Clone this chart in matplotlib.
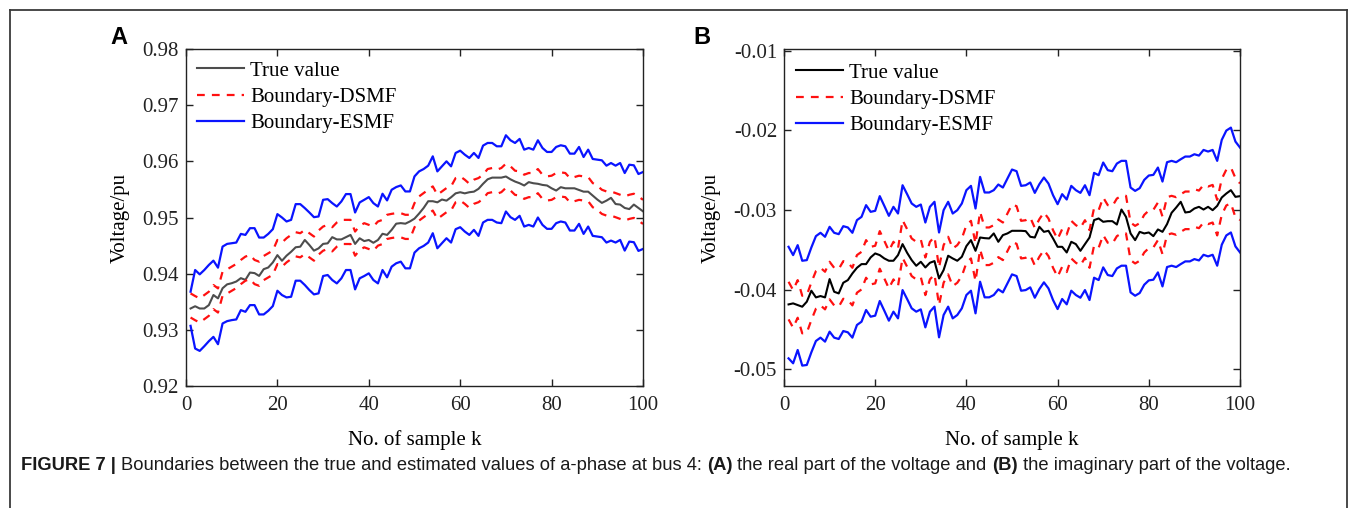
import numpy as np
import matplotlib
matplotlib.use("Agg")
import matplotlib.pyplot as plt
from matplotlib.lines import Line2D
from matplotlib import font_manager

# ---------------- data ----------------
samples = list(range(1, 101))

a_true = [0.9338, 0.9342, 0.9338, 0.9338, 0.9344, 0.9362, 0.9356, 0.9374, 0.9381, 0.9383,
          0.9386, 0.9392, 0.9389, 0.9402, 0.9401, 0.9396, 0.9408, 0.9411, 0.9420, 0.9433,
          0.9423, 0.9432, 0.9439, 0.9447, 0.9448, 0.9460, 0.9451, 0.9441, 0.9445, 0.9453,
          0.9454, 0.9465, 0.9461, 0.9461, 0.9465, 0.9469, 0.9453, 0.9463, 0.9458, 0.9460,
          0.9455, 0.9460, 0.9471, 0.9469, 0.9478, 0.9489, 0.9490, 0.9489, 0.9493, 0.9498,
          0.9507, 0.9517, 0.9529, 0.9529, 0.9527, 0.9532, 0.9530, 0.9536, 0.9543, 0.9545,
          0.9543, 0.9545, 0.9546, 0.9551, 0.9560, 0.9568, 0.9571, 0.9571, 0.9571, 0.9573,
          0.9568, 0.9564, 0.9561, 0.9557, 0.9563, 0.9561, 0.9560, 0.9558, 0.9557, 0.9552,
          0.9548, 0.9554, 0.9552, 0.9552, 0.9552, 0.9549, 0.9546, 0.9546, 0.9539, 0.9532,
          0.9526, 0.9530, 0.9535, 0.9524, 0.9523, 0.9517, 0.9515, 0.9523, 0.9517, 0.9511]

a_dsmf_up = [0.93649, 0.93601, 0.93560, 0.93619, 0.93679, 0.93798, 0.93738, 0.94036, 0.94077, 0.94125,
             0.94173, 0.94244, 0.94304, 0.94333, 0.94244, 0.94214, 0.94315, 0.94363, 0.94411, 0.94601,
             0.94554, 0.94631, 0.94690, 0.94738, 0.94720, 0.94780, 0.94720, 0.94661, 0.94768, 0.94839,
             0.94869, 0.94827, 0.94911, 0.94958, 0.94958, 0.94958, 0.94750, 0.94851, 0.94899, 0.94869,
             0.94839, 0.94929, 0.94958, 0.95048, 0.95065, 0.95077, 0.95077, 0.95048, 0.95048, 0.95256,
             0.95375, 0.95435, 0.95494, 0.95554, 0.95405, 0.95464, 0.95524, 0.95554, 0.95702, 0.95732,
             0.95673, 0.95601, 0.95673, 0.95702, 0.95762, 0.95863, 0.95881, 0.95851, 0.95881, 0.95958,
             0.95911, 0.95833, 0.95821, 0.95762, 0.95792, 0.95792, 0.95863, 0.95762, 0.95732, 0.95744,
             0.95792, 0.95804, 0.95792, 0.95702, 0.95720, 0.95744, 0.95732, 0.95720, 0.95613, 0.95565,
             0.95494, 0.95464, 0.95464, 0.95435, 0.95405, 0.95375, 0.95405, 0.95423, 0.95375, 0.95315]

a_dsmf_low = [0.93219, 0.93171, 0.93130, 0.93189, 0.93249, 0.93368, 0.93308, 0.93606, 0.93647, 0.93695,
              0.93743, 0.93814, 0.93874, 0.93903, 0.93814, 0.93784, 0.93885, 0.93933, 0.93981, 0.94171,
              0.94124, 0.94201, 0.94260, 0.94308, 0.94290, 0.94350, 0.94290, 0.94231, 0.94338, 0.94409,
              0.94439, 0.94397, 0.94481, 0.94528, 0.94528, 0.94528, 0.94320, 0.94421, 0.94469, 0.94439,
              0.94409, 0.94499, 0.94528, 0.94618, 0.94635, 0.94647, 0.94647, 0.94618, 0.94618, 0.94826,
              0.94945, 0.95005, 0.95064, 0.95124, 0.94975, 0.95034, 0.95094, 0.95124, 0.95272, 0.95302,
              0.95243, 0.95171, 0.95243, 0.95272, 0.95332, 0.95433, 0.95451, 0.95421, 0.95451, 0.95528,
              0.95481, 0.95403, 0.95391, 0.95332, 0.95362, 0.95362, 0.95433, 0.95332, 0.95302, 0.95314,
              0.95362, 0.95374, 0.95362, 0.95272, 0.95290, 0.95314, 0.95302, 0.95290, 0.95183, 0.95135,
              0.95064, 0.95034, 0.95034, 0.95005, 0.94975, 0.94945, 0.94975, 0.94993, 0.94945, 0.94885]

a_esmf_up = [0.93679, 0.94065, 0.93988, 0.94065, 0.94155, 0.94232, 0.94107, 0.94482, 0.94530, 0.94542,
             0.94554, 0.94708, 0.94690, 0.94810, 0.94810, 0.94643, 0.94643, 0.94708, 0.94792, 0.95060,
             0.95000, 0.94929, 0.94958, 0.95238, 0.95238, 0.95167, 0.95089, 0.95006, 0.95018, 0.95315,
             0.95327, 0.95256, 0.95196, 0.95286, 0.95417, 0.95417, 0.95089, 0.95268, 0.95315, 0.95363,
             0.95256, 0.95196, 0.95423, 0.95304, 0.95494, 0.95542, 0.95571, 0.95464, 0.95464, 0.95732,
             0.95821, 0.95863, 0.95923, 0.96089, 0.95821, 0.95911, 0.96000, 0.95911, 0.96149, 0.96190,
             0.96119, 0.96060, 0.96149, 0.96060, 0.96280, 0.96327, 0.96327, 0.96268, 0.96268, 0.96464,
             0.96375, 0.96327, 0.96399, 0.96208, 0.96238, 0.96208, 0.96375, 0.96238, 0.96167, 0.96167,
             0.96256, 0.96286, 0.96268, 0.96137, 0.96137, 0.96256, 0.96077, 0.96208, 0.96042, 0.96030,
             0.96018, 0.95923, 0.95970, 0.95923, 0.95970, 0.95792, 0.95940, 0.95929, 0.95774, 0.95810]

a_esmf_low = [0.93071, 0.92667, 0.92625, 0.92708, 0.92798, 0.92875, 0.92744, 0.93113, 0.93155, 0.93173,
              0.93185, 0.93351, 0.93321, 0.93440, 0.93440, 0.93274, 0.93274, 0.93339, 0.93423, 0.93696,
              0.93619, 0.93577, 0.93589, 0.93875, 0.93875, 0.93798, 0.93708, 0.93631, 0.93649, 0.93958,
              0.93976, 0.93887, 0.93827, 0.93917, 0.94065, 0.94065, 0.93720, 0.93917, 0.93958, 0.94006,
              0.93887, 0.93827, 0.94065, 0.93935, 0.94125, 0.94185, 0.94214, 0.94095, 0.94095, 0.94375,
              0.94452, 0.94494, 0.94554, 0.94720, 0.94452, 0.94542, 0.94631, 0.94554, 0.94792, 0.94827,
              0.94750, 0.94690, 0.94780, 0.94673, 0.94911, 0.94958, 0.94958, 0.94911, 0.94899, 0.95107,
              0.95006, 0.94958, 0.95030, 0.94839, 0.94869, 0.94839, 0.95000, 0.94869, 0.94798, 0.94798,
              0.94899, 0.94929, 0.94911, 0.94768, 0.94768, 0.94887, 0.94708, 0.94839, 0.94673, 0.94661,
              0.94649, 0.94554, 0.94589, 0.94554, 0.94601, 0.94411, 0.94571, 0.94560, 0.94405, 0.94440]

b_true = [-0.04186, -0.04173, -0.04194, -0.04215, -0.04152, -0.04014, -0.04098, -0.04081, -0.04098, -0.03868,
          -0.04027, -0.04048, -0.03914, -0.03881, -0.03797, -0.03726, -0.03680, -0.03680, -0.03596, -0.03546,
          -0.03567, -0.03609, -0.03638, -0.03638, -0.03567, -0.03429, -0.03538, -0.03630, -0.03701, -0.03651,
          -0.03722, -0.03663, -0.03642, -0.03860, -0.03755, -0.03575, -0.03609, -0.03638, -0.03588, -0.03454,
          -0.03379, -0.03513, -0.03346, -0.03354, -0.03358, -0.03295, -0.03400, -0.03316, -0.03295, -0.03262,
          -0.03262, -0.03262, -0.03266, -0.03337, -0.03346, -0.03212, -0.03275, -0.03262, -0.03358, -0.03463,
          -0.03463, -0.03534, -0.03400, -0.03429, -0.03513, -0.03429, -0.03346, -0.03128, -0.03107, -0.03149,
          -0.03141, -0.03141, -0.03183, -0.02995, -0.03087, -0.03295, -0.03379, -0.03275, -0.03295, -0.03283,
          -0.03329, -0.03245, -0.03275, -0.03178, -0.03036, -0.02970, -0.02898, -0.03032, -0.03024, -0.02982,
          -0.02961, -0.02995, -0.02961, -0.03003, -0.02949, -0.02844, -0.02794, -0.02752, -0.02836, -0.02827]

b_dsmf_up = [-0.03902, -0.04006, -0.03881, -0.04077, -0.04069, -0.03910, -0.03768, -0.03726, -0.03776, -0.03651,
             -0.03726, -0.03743, -0.03643, -0.03659, -0.03726, -0.03567, -0.03526, -0.03379, -0.03463, -0.03450,
             -0.03266, -0.03388, -0.03513, -0.03400, -0.03484, -0.03129, -0.03241, -0.03358, -0.03400, -0.03371,
             -0.03597, -0.03400, -0.03337, -0.03722, -0.03442, -0.03337, -0.03484, -0.03442, -0.03358, -0.03191,
             -0.03137, -0.03421, -0.03024, -0.03220, -0.03220, -0.03191, -0.03120, -0.03158, -0.03045, -0.02932,
             -0.02953, -0.03137, -0.03129, -0.03095, -0.03225, -0.03116, -0.03032, -0.03108, -0.03254, -0.03367,
             -0.03241, -0.03308, -0.03137, -0.03191, -0.03225, -0.03129, -0.03254, -0.02974, -0.03003, -0.02844,
             -0.02940, -0.02953, -0.02857, -0.02823, -0.02823, -0.03158, -0.03200, -0.03166, -0.03062, -0.03007,
             -0.02999, -0.02907, -0.03083, -0.02840, -0.02823, -0.02840, -0.02803, -0.02769, -0.02769, -0.02740,
             -0.02757, -0.02686, -0.02706, -0.02686, -0.02874, -0.02611, -0.02494, -0.02467, -0.02600, -0.02667]

b_dsmf_low = [-0.04374, -0.04478, -0.04353, -0.04549, -0.04541, -0.04382, -0.04240, -0.04198, -0.04248, -0.04123,
              -0.04198, -0.04215, -0.04115, -0.04131, -0.04198, -0.04039, -0.03998, -0.03851, -0.03935, -0.03922,
              -0.03738, -0.03860, -0.03985, -0.03872, -0.03956, -0.03601, -0.03713, -0.03830, -0.03872, -0.03843,
              -0.04069, -0.03872, -0.03809, -0.04194, -0.03914, -0.03809, -0.03956, -0.03914, -0.03830, -0.03663,
              -0.03609, -0.03893, -0.03496, -0.03692, -0.03692, -0.03663, -0.03592, -0.03630, -0.03517, -0.03404,
              -0.03425, -0.03609, -0.03601, -0.03567, -0.03697, -0.03588, -0.03504, -0.03580, -0.03726, -0.03839,
              -0.03713, -0.03780, -0.03609, -0.03663, -0.03697, -0.03601, -0.03726, -0.03446, -0.03475, -0.03316,
              -0.03412, -0.03425, -0.03329, -0.03295, -0.03295, -0.03630, -0.03672, -0.03638, -0.03534, -0.03479,
              -0.03471, -0.03379, -0.03555, -0.03312, -0.03295, -0.03312, -0.03275, -0.03241, -0.03241, -0.03212,
              -0.03229, -0.03158, -0.03178, -0.03158, -0.03320, -0.03061, -0.02944, -0.02917, -0.03092, -0.03127]

b_esmf_up = [-0.03463, -0.03567, -0.03442, -0.03638, -0.03630, -0.03471, -0.03329, -0.03287, -0.03337, -0.03212,
             -0.03287, -0.03304, -0.03204, -0.03220, -0.03287, -0.03128, -0.03087, -0.02940, -0.03024, -0.03011,
             -0.02827, -0.02949, -0.03074, -0.02961, -0.03045, -0.02690, -0.02802, -0.02919, -0.02961, -0.02932,
             -0.03158, -0.02961, -0.02898, -0.03283, -0.03003, -0.02898, -0.03045, -0.03003, -0.02919, -0.02752,
             -0.02698, -0.02982, -0.02585, -0.02781, -0.02781, -0.02752, -0.02681, -0.02719, -0.02606, -0.02493,
             -0.02514, -0.02698, -0.02690, -0.02656, -0.02786, -0.02677, -0.02593, -0.02669, -0.02815, -0.02928,
             -0.02802, -0.02869, -0.02698, -0.02752, -0.02786, -0.02690, -0.02815, -0.02535, -0.02564, -0.02405,
             -0.02501, -0.02514, -0.02418, -0.02384, -0.02384, -0.02719, -0.02761, -0.02727, -0.02623, -0.02568,
             -0.02560, -0.02468, -0.02644, -0.02401, -0.02384, -0.02401, -0.02364, -0.02330, -0.02330, -0.02301,
             -0.02318, -0.02247, -0.02267, -0.02247, -0.02384, -0.02121, -0.02004, -0.01967, -0.02142, -0.02217]

b_esmf_low = [-0.04863, -0.04925, -0.04758, -0.04954, -0.04946, -0.04787, -0.04645, -0.04603, -0.04653, -0.04528,
              -0.04603, -0.04620, -0.04520, -0.04536, -0.04603, -0.04444, -0.04403, -0.04256, -0.04340, -0.04327,
              -0.04143, -0.04265, -0.04390, -0.04277, -0.04361, -0.04006, -0.04118, -0.04235, -0.04277, -0.04248,
              -0.04474, -0.04277, -0.04214, -0.04599, -0.04319, -0.04214, -0.04361, -0.04319, -0.04235, -0.04068,
              -0.04014, -0.04298, -0.03901, -0.04097, -0.04097, -0.04068, -0.03997, -0.04035, -0.03922, -0.03809,
              -0.03830, -0.04014, -0.04006, -0.03972, -0.04102, -0.03993, -0.03909, -0.03985, -0.04131, -0.04244,
              -0.04118, -0.04185, -0.04014, -0.04068, -0.04102, -0.04006, -0.04131, -0.03851, -0.03880, -0.03721,
              -0.03817, -0.03830, -0.03734, -0.03700, -0.03700, -0.04035, -0.04077, -0.04043, -0.03939, -0.03884,
              -0.03876, -0.03784, -0.03960, -0.03717, -0.03700, -0.03717, -0.03680, -0.03646, -0.03646, -0.03617,
              -0.03634, -0.03563, -0.03583, -0.03563, -0.03700, -0.03437, -0.03320, -0.03283, -0.03458, -0.03533]

legend_labels = ["True value", "Boundary-DSMF", "Boundary-ESMF"]
a_yticks = [0.92, 0.93, 0.94, 0.95, 0.96, 0.97, 0.98]
b_yticks = [-0.05, -0.04, -0.03, -0.02, -0.01]
xticks = [0, 20, 40, 60, 80, 100]
xlabel = "No. of sample k"
ylabel = "Voltage/pu"

# ---------------- figure ----------------
W, H = 1356, 508
fig = plt.figure(figsize=(W / 100, H / 100), dpi=100)
fig.patch.set_facecolor("white")

SERIF = "Liberation Serif"
FS = 15


def px_axes(l, t, r, b):
    return [l / W, 1 - b / H, (r - l) / W, (b - t) / H]


def style_axes(ax, ylim, yticks, fmt):
    ax.set_xlim(0, 100)
    ax.set_ylim(*ylim)
    ax.set_xticks(xticks)
    ax.set_yticks(yticks)
    ax.set_xticklabels([str(v) for v in xticks], fontfamily=SERIF, fontsize=FS)
    ax.set_yticklabels([fmt(v) for v in yticks], fontfamily=SERIF, fontsize=FS)
    ax.tick_params(direction="in", length=5, width=1.0, top=True, right=True,
                   colors="#222222", pad=7)
    ax.tick_params(axis="y", pad=5)
    for s in ax.spines.values():
        s.set_linewidth(1.0)
        s.set_color("#222222")
    ax.set_xlabel(xlabel, fontfamily=SERIF, fontsize=FS, labelpad=11)
    ax.set_ylabel(ylabel, fontfamily=SERIF, fontsize=FS, labelpad=9)


def draw_panel(ax, true, dup, dlow, eup, elow, true_color):
    l1, = ax.plot(samples, true, color=true_color, lw=1.5)
    l2, = ax.plot(samples, dup, color="#ff1010", lw=1.6, dashes=(3.5, 3.2))
    ax.plot(samples, dlow, color="#ff1010", lw=1.6, dashes=(3.5, 3.2))
    l3, = ax.plot(samples, eup, color="#0a14ff", lw=1.6)
    ax.plot(samples, elow, color="#0a14ff", lw=1.6)
    return [l1, l2, l3]


leg_kw = dict(loc="upper left", frameon=False, prop={"family": SERIF, "size": FS},
              handlelength=2.25, handletextpad=0.3, labelspacing=0.32,
              borderpad=0, borderaxespad=0)

axA = fig.add_axes(px_axes(186, 49, 643, 386))
hA = draw_panel(axA, a_true, a_dsmf_up, a_dsmf_low, a_esmf_up, a_esmf_low, "#4d4d4d")
style_axes(axA, (0.92, 0.98), a_yticks, lambda v: f"{v:.2f}")
axA.legend(hA, legend_labels, bbox_to_anchor=(0.024, 0.964), **leg_kw)

axB = fig.add_axes(px_axes(784, 49, 1240, 386))
hB = draw_panel(axB, b_true, b_dsmf_up, b_dsmf_low, b_esmf_up, b_esmf_low, "black")
style_axes(axB, (-0.0521, -0.0098), b_yticks, lambda v: f"{v:.2f}")
axB.legend(hB, legend_labels, bbox_to_anchor=(0.027, 0.958), **leg_kw)

# panel letters
fig.text(119 / W, 1 - 37 / H, "A", fontsize=17, fontweight="bold",
         family="Liberation Sans", ha="center", va="center")
fig.text(702 / W, 1 - 37 / H, "B", fontsize=17, fontweight="bold",
         family="Liberation Sans", ha="center", va="center")

# outer frame (left, top, right)
frame_kw = dict(color="#3a3a3a", lw=1.3, transform=fig.transFigure)
fig.add_artist(Line2D([9.5 / W, 9.5 / W], [0, 1 - 9.5 / H], **frame_kw))
fig.add_artist(Line2D([9.5 / W, 1346.5 / W], [1 - 9.5 / H, 1 - 9.5 / H], **frame_kw))
fig.add_artist(Line2D([1346.5 / W, 1346.5 / W], [0, 1 - 9.5 / H], **frame_kw))

# caption with mixed weights
caption = [("FIGURE 7 | ", "bold"),
           ("Boundaries between the true and estimated values of a-phase at bus 4: ", "normal"),
           ("(A)", "bold"),
           (" the real part of the voltage and ", "normal"),
           ("(B)", "bold"),
           (" the imaginary part of the voltage.", "normal")]

try:
    font_manager.findfont("Liberation Sans Narrow", fallback_to_default=False)
    cap_family = "Liberation Sans Narrow"
except Exception:
    cap_family = "Liberation Sans"

renderer = fig.canvas.get_renderer()


def caption_width(size):
    tot = 0
    for txt, wt in caption:
        t = fig.text(0, 0, txt, fontsize=size, fontweight=wt, family=cap_family)
        tot += t.get_window_extent(renderer).width
        t.remove()
    return tot


target = 1270.0
size = 12.5
size = size * target / caption_width(size)

x = 21.0
for txt, wt in caption:
    t = fig.text(x / W, 1 - 466 / H, txt, fontsize=size, fontweight=wt,
                 family=cap_family, ha="left", va="center", color="#1a1a1a")
    x += t.get_window_extent(renderer).width

fig.savefig("out.png", dpi=100, facecolor="white")
